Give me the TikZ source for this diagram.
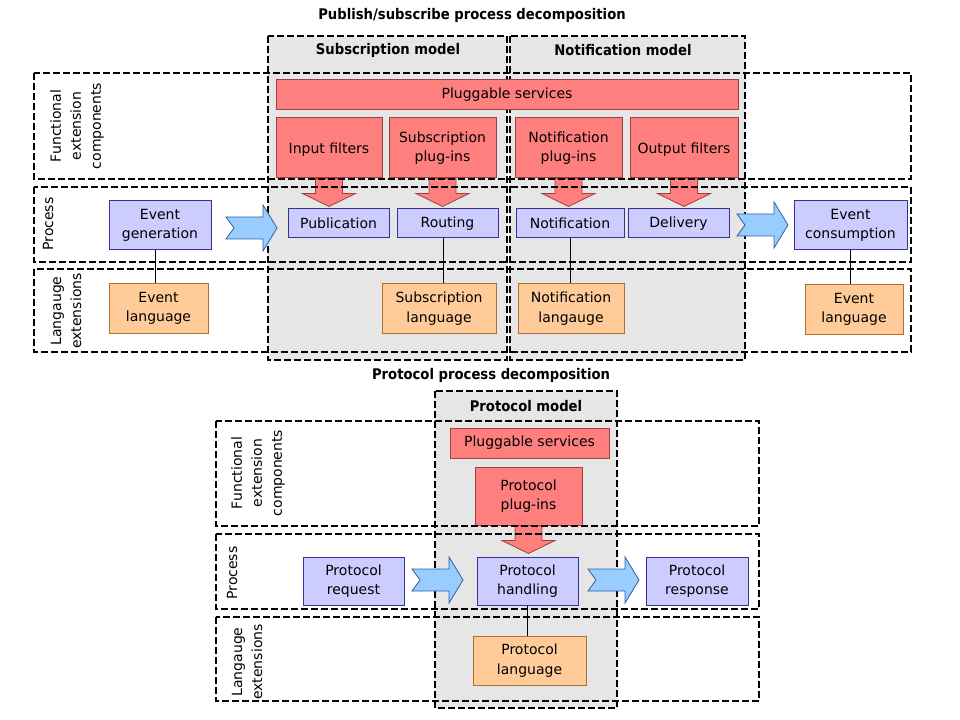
\documentclass[tikz,border=0pt]{standalone}
\usepackage{fontspec}
\setmainfont{DejaVu Sans}
\newfontfamily\boldtitle{DejaVu Sans}[FakeStretch=0.9]
\usetikzlibrary{fit,calc}
\definecolor{pinkf}{HTML}{FF7F7F}
\definecolor{pinkd}{HTML}{A04040}
\definecolor{bluef}{HTML}{CCCCFF}
\definecolor{blued}{HTML}{333399}
\definecolor{orf}{HTML}{FFCC99}
\definecolor{ord}{HTML}{B07030}
\definecolor{arrf}{HTML}{99CCFF}
\definecolor{arrd}{HTML}{3060A0}
\definecolor{grayf}{HTML}{E6E6E6}
\tikzset{
  txt/.style={font=\fontsize{10.5}{14.5}\selectfont},
  box/.style={txt, draw, line width=0.75pt, inner sep=0pt, align=center},
  pbox/.style={box, fill=pinkf, draw=pinkd},
  bbox/.style={box, fill=bluef, draw=blued},
  obox/.style={box, fill=orf, draw=ord},
  band/.style={draw=black, line width=1.5pt, dash pattern=on 5pt off 2.5pt},
  modelbox/.style={band, fill=grayf},
  lab/.style={txt, rotate=90, align=center, font=\fontsize{10.5}{15}\selectfont},
  ttl/.style={font=\boldtitle\bfseries\fontsize{11}{13}\selectfont},
  conn/.style={draw=black, line width=0.6pt},
  pdown/.pic={\draw[pinkd, fill=pinkf, line width=0.6pt] (-13.5,0) -- (-13.5,15) -- (-26.5,15) -- (0,28) -- (26.5,15) -- (13.5,15) -- (13.5,0) -- cycle;},
  bright/.pic={\draw[arrd, fill=arrf, line width=0.6pt] (0,-11) -- (37,-11) -- (37,-23) -- (51,0) -- (37,23) -- (37,11) -- (0,11) -- (8,0) -- cycle;}
}
\begin{document}
\begin{tikzpicture}[x=0.75pt,y=-0.75pt]
\useasboundingbox[fill=white] (0,0) rectangle (960,720);

% ===== top part =====
\node[ttl] (t1) at (472,15) {Publish/subscribe process decomposition};
\fill[grayf] (268,36) rectangle (507,360);
\fill[grayf] (510,36) rectangle (745,360);

\node[pbox, fit={(276,118) (382,178)}] (inf) {};
\node[pbox, fit={(389,118) (496,178)}] (spi) {};
\node[pbox, fit={(515,118) (622,178)}] (npi) {};
\node[pbox, fit={(630,118) (738,178)}] (outf) {};
\pic at (inf.south) {pdown};
\pic at (spi.south) {pdown};
\pic at (npi.south) {pdown};
\pic at (outf.south) {pdown};

\draw[band] (34,73) rectangle (911,179);
\draw[band] (34,187) rectangle (911,262);
\draw[band] (34,269) rectangle (911,352);
\draw[band] (268,36) rectangle (507,360);
\draw[band] (510,36) rectangle (745,360);

\node[ttl] (smt) at (388,50) {Subscription model};
\node[ttl] (nmt) at (623,50) {Notification model};

\node[lab] (lf1) at (77,126) {Functional\\extension\\components};
\node[lab] (lp1) at (48,224) {Process};
\node[lab] (ll1) at (66,311) {Langauge\\extensions};

\node[pbox, fit={(276,80) (738,110)}] (pl1) {};
\node[txt] at (pl1) {Pluggable services};
\node[txt, align=center] at ($(inf)+(0,2)$) {Input filters};
\node[txt, align=center] at (spi) {Subscription\\plug-ins};
\node[txt, align=center] at (npi) {Notification\\plug-ins};
\node[txt, align=center] at ($(outf)+(0,2)$) {Output filters};

\node[bbox, fit={(109,201) (211,250)}] (evg) {};
\node[txt, align=center] at (evg) {Event\\generation};
\node[bbox, fit={(288,209) (389,238)}] (pub) {};
\node[txt] at (pub) {Publication};
\node[bbox, fit={(397,209) (498,238)}] (rout) {};
\node[txt] at (rout) {Routing};
\node[bbox, fit={(516,209) (624,238)}] (notif) {};
\node[txt] at (notif) {Notification};
\node[bbox, fit={(628,209) (729,238)}] (deliv) {};
\node[txt] at (deliv) {Delivery};
\node[bbox, fit={(794,201) (907,250)}] (evc) {};
\node[txt, align=center] at (evc) {Event\\consumption};

\pic at (226,228) {bright};
\pic at (737,225) {bright};

\node[obox, fit={(109,284) (208,333)}] (evl1) {};
\node[txt, align=center] at (evl1) {Event\\language};
\node[obox, fit={(382,284) (496,333)}] (sul) {};
\node[txt, align=center] at (sul) {Subscription\\language};
\node[obox, fit={(518,284) (624,333)}] (nol) {};
\node[txt, align=center] at (nol) {Notification\\langauge};
\node[obox, fit={(805,285) (903,334)}] (evl2) {};
\node[txt, align=center] at (evl2) {Event\\language};

\draw[conn] ($(evg.south)+(-5,0)$) -- ($(evg.south |- evl1.north)+(-5,0)$);
\draw[conn] ($(rout.south)+(-4.5,0)$) -- ($(rout.south |- sul.north)+(-4.5,0)$);
\draw[conn] (notif.south) -- (notif.south |- nol.north);
\draw[conn] (evc.south) -- (evc.south |- evl2.north);

% ===== bottom part =====
\node[ttl] (t2) at (491,375) {Protocol process decomposition};
\fill[grayf] (435,391) rectangle (617,708);

\node[pbox, fit={(475,467) (582,525)}] (ppi) {};
\pic at (ppi.south) {pdown};

\draw[band] (216,421) rectangle (759,526);
\draw[band] (216,534) rectangle (759,609);
\draw[band] (216,617) rectangle (759,701);
\draw[band] (435,391) rectangle (617,708);

\node[ttl] (pmt) at (526,406) {Protocol model};

\node[lab] (lf2) at (258,473) {Functional\\extension\\components};
\node[lab] (lp2) at (232,573) {Process};
\node[lab] (ll2) at (247,662) {Langauge\\extensions};

\node[pbox, fit={(450,428) (609,458)}] (pl2) {};
\node[txt] at (pl2) {Pluggable services};
\node[txt, align=center] at (ppi) {Protocol\\plug-ins};

\node[bbox, fit={(303,557) (404,605)}] (preq) {};
\node[txt, align=center] at (preq) {Protocol\\request};
\node[bbox, fit={(477,557) (578,605)}] (phand) {};
\node[txt, align=center] at (phand) {Protocol\\handling};
\node[bbox, fit={(646,557) (748,605)}] (presp) {};
\node[txt, align=center] at (presp) {Protocol\\response};

\pic at (412,580) {bright};
\pic at (588,580) {bright};

\node[obox, fit={(473,636) (586,685)}] (plang) {};
\node[txt, align=center] at (plang) {Protocol\\language};

\draw[conn] (phand.south) -- (phand.south |- plang.north);
\end{tikzpicture}
\end{document}
